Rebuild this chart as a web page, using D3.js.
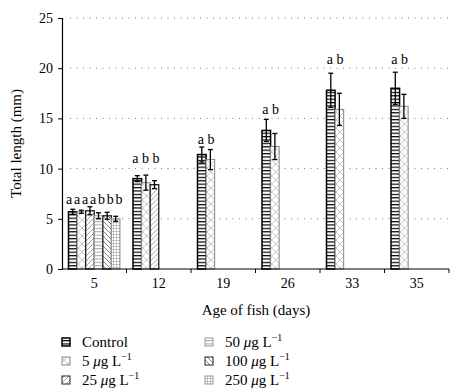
<!DOCTYPE html>
<html>
<head>
<meta charset="utf-8">
<script src="https://cdn.jsdelivr.net/npm/d3@7"></script>
<style>
  body { margin: 0; background: #fff; }
  svg { font-family: "Liberation Serif", "DejaVu Serif", serif; }
</style>
</head>
<body>
<svg width="450" height="389"></svg>
<script>
// data
var days = ["5", "12", "19", "26", "33", "35"];
var series = ["Control", "5", "25", "50", "100", "250"];
var means = [
  [5.7, 5.7, 5.8, 5.3, 5.3, 5.0],
  [9.0, 8.6, 8.4],
  [11.4, 10.9],
  [13.8, 12.2],
  [17.8, 15.9],
  [18.0, 16.2]
];
var errs = [
  [0.25, 0.15, 0.4, 0.3, 0.35, 0.25],
  [0.3, 0.75, 0.4],
  [0.75, 1.0],
  [1.1, 1.3],
  [1.7, 1.6],
  [1.6, 1.2]
];
var letters = [
  ["a", "a", "a", "ab", "b", "b"],
  ["a", "b", "b"],
  ["a", "b"],
  ["a", "b"],
  ["a", "b"],
  ["a", "b"]
];
var letterY = [6.5, 10.6, 12.5, 15.4, 20.4, 20.4];
var yTicks = [0, 5, 10, 15, 20, 25];

var svg = d3.select("svg");
var margin = {left: 62, right: 1, top: 18, bottom: 120};
var W = 450, H = 389;

var x0 = d3.scaleBand().domain(days).range([margin.left, W - margin.right]);
var x1 = d3.scaleBand().domain(series).range([6.5, x0.bandwidth() - 6.5]);
var y = d3.scaleLinear().domain([0, 25]).range([H - margin.bottom, margin.top]);

// patterns
var defs = svg.append("defs");
function pat(id, w, h, draw) {
  var p = defs.append("pattern").attr("id", id)
    .attr("patternUnits", "userSpaceOnUse")
    .attr("width", w).attr("height", h);
  p.append("rect").attr("width", w).attr("height", h).attr("fill", "#fff");
  draw(p);
}
pat("pCtrl", 10, 3.4, function(p) {
  p.append("line").attr("x1", 0).attr("x2", 10).attr("y1", 0.6).attr("y2", 0.6)
    .attr("stroke", "#000").attr("stroke-width", 1.2);
});
pat("p5", 8, 8, function(p) {
  p.append("path").attr("d", "M0,0L8,8M8,0L0,8")
    .attr("stroke", "#b8b8b8").attr("stroke-width", 0.8);
});
pat("p25", 5, 5, function(p) {
  p.append("path").attr("d", "M-1,6L6,-1M-1,1L1,-1M4,6L6,4")
    .attr("stroke", "#888").attr("stroke-width", 0.8);
});
pat("p50", 10, 3.4, function(p) {
  p.append("line").attr("x1", 0).attr("x2", 10).attr("y1", 0.6).attr("y2", 0.6)
    .attr("stroke", "#999").attr("stroke-width", 0.9);
});
pat("p100", 5, 5, function(p) {
  p.append("path").attr("d", "M-1,-1L6,6M4,-1L6,1M-1,4L1,6")
    .attr("stroke", "#666").attr("stroke-width", 0.8);
});
pat("p250", 3, 3, function(p) {
  p.append("path").attr("d", "M0,0.5H3M0.5,0V3")
    .attr("stroke", "#aaa").attr("stroke-width", 0.7);
});
var fills = ["url(#pCtrl)", "url(#p5)", "url(#p25)", "url(#p50)", "url(#p100)", "url(#p250)"];
var strokes = ["#000", "#888", "#222", "#999", "#222", "#999"];
var strokeW = [1.5, 1, 1.3, 1, 1.3, 1];

// grid
svg.append("g").selectAll("line").data(yTicks.slice(1)).enter().append("line")
  .attr("x1", margin.left + 8).attr("x2", W)
  .attr("y1", function(d) { return y(d); }).attr("y2", function(d) { return y(d); })
  .attr("stroke", "#777").attr("stroke-width", 1)
  .attr("stroke-dasharray", "1,5.5");

// bars
var groups = svg.append("g").selectAll("g").data(days).enter().append("g")
  .attr("transform", function(d) { return "translate(" + x0(d) + ",0)"; });

groups.each(function(day, gi) {
  var g = d3.select(this);
  var rows = means[gi].map(function(v, i) {
    return {s: series[i], i: i, v: v, e: errs[gi][i]};
  });
  g.selectAll("rect").data(rows).enter().append("rect")
    .attr("x", function(d) { return x1(d.s); })
    .attr("y", function(d) { return y(d.v); })
    .attr("width", x1.bandwidth())
    .attr("height", function(d) { return y(0) - y(d.v); })
    .attr("fill", function(d) { return fills[d.i]; })
    .attr("stroke", function(d) { return strokes[d.i]; })
    .attr("stroke-width", function(d) { return strokeW[d.i]; });
  var eb = g.selectAll("g.err").data(rows).enter().append("g").attr("class", "err")
    .attr("stroke", "#000").attr("stroke-width", 1.3);
  eb.append("line")
    .attr("x1", function(d) { return x1(d.s) + x1.bandwidth() / 2; })
    .attr("x2", function(d) { return x1(d.s) + x1.bandwidth() / 2; })
    .attr("y1", function(d) { return y(d.v + d.e); })
    .attr("y2", function(d) { return y(d.v - d.e); });
  [1, -1].forEach(function(sg) {
    eb.append("line")
      .attr("x1", function(d) { return x1(d.s) + x1.bandwidth() / 2 - 2.5; })
      .attr("x2", function(d) { return x1(d.s) + x1.bandwidth() / 2 + 2.5; })
      .attr("y1", function(d) { return y(d.v + sg * d.e); })
      .attr("y2", function(d) { return y(d.v + sg * d.e); });
  });
  // significance letters, one string centred over the group's bars
  var n = rows.length;
  var sp = n > 3 ? 1.8 : 0;
  var cx = (x1(series[0]) + x1(series[n - 1]) + x1.bandwidth()) / 2;
  g.append("text")
    .attr("x", cx + sp / 2)
    .attr("y", y(letterY[gi]))
    .attr("text-anchor", "middle")
    .attr("font-size", 14)
    .attr("letter-spacing", sp)
    .text(letters[gi].join(n > 3 ? "" : " "));
});

// axes
var yAxis = svg.append("g").attr("transform", "translate(" + margin.left + ",0)")
  .call(d3.axisLeft(y).tickValues(yTicks).tickSize(4).tickPadding(5));
var xAxis = svg.append("g").attr("transform", "translate(0," + y(0) + ")")
  .call(d3.axisBottom(x0).tickSize(0).tickPadding(9));
xAxis.selectAll(".tick line").remove();
xAxis.append("g").selectAll("line").data(days).enter().append("line")
  .attr("x1", function(d) { return x0(d) + x0.bandwidth(); })
  .attr("x2", function(d) { return x0(d) + x0.bandwidth(); })
  .attr("y1", 0).attr("y2", 4).attr("stroke", "#000");
[yAxis, xAxis].forEach(function(a) {
  a.select(".domain").attr("stroke", "#000").attr("stroke-width", 1.2);
  a.selectAll("text").attr("font-family", "Liberation Serif, serif")
    .attr("font-size", 14).attr("fill", "#000");
});
xAxis.select(".domain").attr("d", "M" + margin.left + ",0H" + (W - margin.right));

svg.append("text").attr("x", 256).attr("y", 315).attr("text-anchor", "middle")
  .attr("font-size", 15).text("Age of fish (days)");
svg.append("text").attr("transform", "translate(21," + y(12.5) + ") rotate(-90)")
  .attr("text-anchor", "middle").attr("font-size", 15).text("Total length (mm)");

// legend
var legend = svg.append("g");
series.forEach(function(s, i) {
  var col = Math.floor(i / 3), row = i % 3;
  var lx = 62 + col * 143, ly = 342 + row * 19;
  legend.append("rect").attr("x", lx).attr("y", ly - 4).attr("width", 8).attr("height", 8)
    .attr("fill", fills[i]).attr("stroke", strokes[i]).attr("stroke-width", i === 0 ? 1.5 : 1);
  var t = legend.append("text").attr("x", lx + 20).attr("y", ly + 4.5).attr("font-size", 15);
  if (i === 0) {
    t.text(s);
  } else {
    t.append("tspan").text(s + " ");
    t.append("tspan").attr("font-style", "italic").text("\u03bc");
    t.append("tspan").text("g L");
    t.append("tspan").attr("font-size", 10).attr("dy", -6).text("\u2212" + "1");
  }
});
</script>
</body>
</html>
